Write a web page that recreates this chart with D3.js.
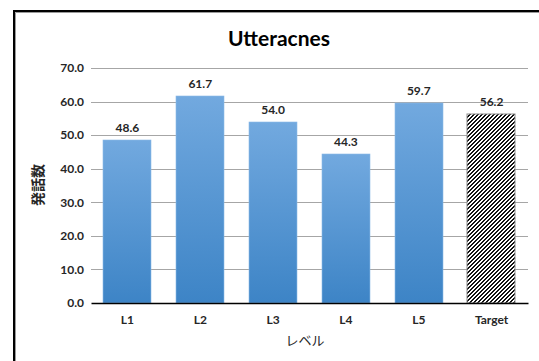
<!DOCTYPE html>
<html>
<head>
<meta charset="utf-8">
<script src="https://cdn.jsdelivr.net/npm/d3@7"></script>
<style>
  html, body { margin: 0; padding: 0; background: #fff; }
  svg { display: block; }
</style>
</head>
<body>
<svg id="chart" width="539" height="361"></svg>
<script>
// Chart data
const categories = ["L1", "L2", "L3", "L4", "L5", "Target"];
const values = [48.6, 61.7, 54.0, 44.3, 59.7, 56.2];
const yTicks = [0, 10, 20, 30, 40, 50, 60, 70];
const titleText = "Utteracnes";
const xAxisTitle = "レベル";
const yAxisTitle = "発話数";

const svg = d3.select("#chart");
const W = 539, H = 361;
const margin = { left: 91, right: 11, top: 68, bottom: 58 };
const font = "Lato, 'Open Sans', 'Noto Sans', sans-serif";
const cjk = "'Noto Sans CJK JP', sans-serif";

const defs = svg.append("defs");

// Blue gradient for the level bars
const grad = defs.append("linearGradient")
  .attr("id", "barGrad").attr("x1", 0).attr("y1", 0).attr("x2", 0).attr("y2", 1);
grad.append("stop").attr("offset", "0%").attr("stop-color", "#72a9df");
grad.append("stop").attr("offset", "100%").attr("stop-color", "#3d84c6");

// Pixel-stepped diagonal hatch (rising to the right) for the target bar
const P = 4;
const pat = defs.append("pattern")
  .attr("id", "hatch").attr("patternUnits", "userSpaceOnUse")
  .attr("width", P).attr("height", P);
pat.append("rect").attr("width", P).attr("height", P).attr("fill", "#ffffff");
let hatchPath = "";
for (let r = 0; r < P; r++) {
  for (let k = 0; k < 2; k++) {
    const c = ((P - 1 - r + k) % P + P) % P;
    hatchPath += `M${c},${r}h1v1h-1z`;
  }
}
pat.append("path").attr("d", hatchPath).attr("fill", "#111111").attr("shape-rendering", "crispEdges");

// Outer frame
svg.append("path")
  .attr("d", `M15.5,${H} V12.5 H${W}`)
  .attr("fill", "none").attr("stroke", "#9a9a9a").attr("stroke-width", 1);
svg.append("path")
  .attr("d", `M14,${H} V11 H${W}`)
  .attr("fill", "none").attr("stroke", "#000").attr("stroke-width", 2);

const x = d3.scaleBand()
  .domain(categories)
  .range([margin.left, W - margin.right])
  .paddingInner(0.335)
  .paddingOuter(0.1675);

const y = d3.scaleLinear()
  .domain([0, 70])
  .range([H - margin.bottom, margin.top]);

// Gridlines
svg.append("g")
  .selectAll("line")
  .data(yTicks.filter(d => d > 0))
  .join("line")
  .attr("x1", margin.left).attr("x2", W - margin.right)
  .attr("y1", d => Math.round(y(d)) + 0.5).attr("y2", d => Math.round(y(d)) + 0.5)
  .attr("stroke", "#a6a6a6").attr("stroke-width", 1);

// Y axis tick labels
const yAxis = d3.axisLeft(y).tickValues(yTicks).tickFormat(d3.format(".1f")).tickSize(0).tickPadding(7);
const gy = svg.append("g").attr("transform", `translate(${margin.left},0)`).call(yAxis);
gy.select(".domain").remove();
gy.selectAll("text")
  .attr("font-family", font).attr("font-size", 12).attr("font-weight", "bold").attr("fill", "#262626");

// Bars
const barData = categories.map((c, i) => ({ c, v: values[i] }));
svg.append("g")
  .selectAll("rect")
  .data(barData)
  .join("rect")
  .attr("x", d => Math.round(x(d.c)))
  .attr("y", d => Math.round(y(d.v)))
  .attr("width", Math.round(x.bandwidth()))
  .attr("height", d => Math.round(y(0)) - Math.round(y(d.v)))
  .attr("fill", d => d.c === "Target" ? "url(#hatch)" : "url(#barGrad)")
  .attr("stroke", d => d.c === "Target" ? "#8c8c8c" : "#8cbbe8")
  .attr("stroke-width", d => d.c === "Target" ? 1 : 0.6);

// Value labels
svg.append("g")
  .selectAll("text")
  .data(barData)
  .join("text")
  .attr("x", d => x(d.c) + x.bandwidth() / 2)
  .attr("y", d => y(d.v) - 8)
  .attr("text-anchor", "middle")
  .attr("font-family", font).attr("font-size", 12).attr("font-weight", "bold").attr("fill", "#262626")
  .text(d => d.v.toFixed(1));

// X axis
const xAxis = d3.axisBottom(x).tickSize(0).tickPadding(12);
const gx = svg.append("g").attr("transform", `translate(0,${y(0)})`).call(xAxis);
gx.select(".domain").attr("stroke", "#000").attr("stroke-width", 1.3);
gx.selectAll("text")
  .attr("font-family", font).attr("font-size", 12).attr("font-weight", "bold").attr("fill", "#262626");

// Title
svg.append("text")
  .attr("x", 279).attr("y", 46)
  .attr("text-anchor", "middle")
  .attr("font-family", font).attr("font-size", 21).attr("font-weight", "bold").attr("fill", "#000")
  .text(titleText);

// Axis titles
svg.append("text")
  .attr("x", 305).attr("y", 345)
  .attr("text-anchor", "middle")
  .attr("font-family", cjk).attr("font-size", 13).attr("fill", "#262626")
  .text(xAxisTitle);

svg.append("text")
  .attr("transform", "translate(43,185) rotate(-90)")
  .attr("text-anchor", "middle")
  .attr("font-family", cjk).attr("font-size", 14).attr("font-weight", "bold").attr("fill", "#262626")
  .text(yAxisTitle);
</script>
</body>
</html>
